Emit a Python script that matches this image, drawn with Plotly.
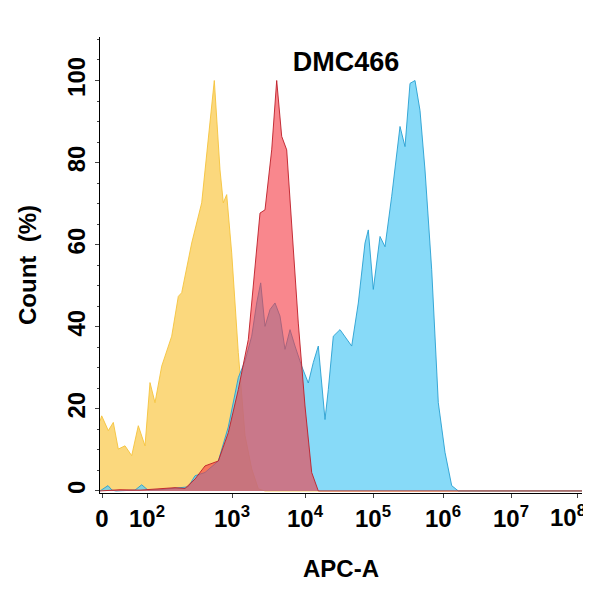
import plotly.graph_objects as go

tick_pos = [102, 147, 232, 305, 373, 443, 511, 577]
tick_text = ["0", "10<sup>2</sup>", "10<sup>3</sup>", "10<sup>4</sup>", "10<sup>5</sup>", "10<sup>6</sup>", "10<sup>7</sup>", "10<sup>8</sup>"]

yellow_x = [100, 101.7, 108.3, 113.3, 118.3, 125, 131.7, 138.3, 145, 150, 155, 161.7, 171.7, 178.3, 181.7, 191.7, 201.7, 210, 214.3, 220, 223.3, 226.7, 231.7, 238.3, 245, 251.7, 258.3, 265, 582]
yellow_y = [17, 18.3, 14.7, 16.7, 10.2, 11.0, 8.6, 15.9, 11.0, 26.4, 21.5, 30.4, 37.7, 47.4, 48.3, 60.4, 70.2, 90.4, 100, 78.2, 70.2, 72.2, 58.0, 33.7, 13.5, 5.4, 0.5, 0, 0]

red_x = [100, 120, 140, 160, 175, 185, 195, 205, 218.3, 228.3, 238.3, 248.3, 255, 260, 265, 271.7, 276.7, 281.7, 286.7, 291.7, 298.3, 305, 311.7, 318.3, 328.3, 582]
red_y = [0, 0.3, 0.2, 0.6, 0.8, 0.6, 2.9, 6.1, 7.3, 14.2, 24.7, 36.9, 54.7, 67.7, 68.5, 83.1, 100, 86.4, 83.1, 65.3, 40.9, 20.7, 4.5, 0, 0, 0]

blue_x = [100, 108, 112, 116, 135, 141.7, 148, 160, 188.3, 195, 205, 218.3, 228.3, 238.3, 245, 251.7, 256.7, 260.7, 265, 270, 275, 280, 285, 290, 295, 301.7, 308.3, 313.3, 318.3, 325, 328.3, 333.3, 340, 345, 351.7, 358.3, 365, 368.3, 373.3, 380, 385, 391.7, 400, 405, 410, 415, 420, 425, 431.7, 438.3, 445, 451.7, 458.3, 582]
blue_y = [0, 1.3, 0.2, 0, 0.2, 1.5, 0.2, 0.3, 1.0, 3.7, 4.5, 7.3, 15.6, 27.6, 31.7, 37.7, 45.8, 50.7, 40.1, 44.2, 45.8, 42.6, 34.5, 39.3, 35.3, 30.4, 26.3, 31.3, 35.3, 17.4, 24.7, 37.7, 39.3, 37.7, 35.3, 45.8, 60.4, 63.6, 49.1, 62.0, 59.5, 71.8, 88.8, 83.9, 99.3, 100, 92.7, 78.2, 53.9, 21.5, 9.4, 1.3, 0, 0]

fig = go.Figure()
fig.add_trace(go.Scatter(x=yellow_x, y=yellow_y, fill="tozeroy", mode="lines",
                         line=dict(color="rgba(245,195,60,0.9)", width=1),
                         fillcolor="rgba(250,200,70,0.7)"))
fig.add_trace(go.Scatter(x=blue_x, y=blue_y, fill="tozeroy", mode="lines",
                         line=dict(color="rgba(40,160,210,0.9)", width=1),
                         fillcolor="rgba(95,205,245,0.75)"))
fig.add_trace(go.Scatter(x=red_x, y=red_y, fill="tozeroy", mode="lines",
                         line=dict(color="rgba(190,30,40,0.9)", width=1),
                         fillcolor="rgba(245,55,65,0.6)"))

bold = dict(family="Liberation Sans", size=24, color="black")
labels = [f"<b>{t}</b>" for t in tick_text]
fig.update_layout(
    width=591, height=585, showlegend=False,
    plot_bgcolor="white", paper_bgcolor="white",
    margin=dict(l=92, r=17, t=29, b=100, autoexpand=False),
    title=dict(text="<b>DMC466</b>", x=0.572, xanchor="center", y=0.908, yanchor="middle",
               font=dict(family="Liberation Sans", size=27, color="black")),
    xaxis=dict(range=[100, 582], tickvals=tick_pos, ticktext=labels[:-1] + [""],
               tickfont=bold, showline=True, linecolor="black", linewidth=1, automargin=False,
               ticks="outside", ticklen=4, showgrid=False, zeroline=False,
               title=dict(text="<b>APC-A</b>", font=bold, standoff=29)),
    yaxis=dict(range=[-0.5, 110.6], tickvals=[0, 20, 40, 60, 80, 100],
               ticktext=["<b>0</b>", "<b>20</b>", "<b>40</b>", "<b>60</b>", "<b>80</b>", "<b>100</b>"],
               tickangle=-90, tickfont=bold, showline=True, linecolor="black", linewidth=1,
               automargin=False,
               ticks="outside", ticklen=4, showgrid=False, zeroline=False,
               minor=dict(ticks="outside", ticklen=2, dtick=5),
               title=dict(text="<b>Count  (%)</b>", font=bold, standoff=20)),
)
fig.add_annotation(x=tick_pos[-1], xref="x", y=0, yref="paper", yshift=-6, xshift=-9,
                   text=labels[-1], showarrow=False, yanchor="top", xanchor="center",
                   font=bold)
fig.write_html("out.html")
